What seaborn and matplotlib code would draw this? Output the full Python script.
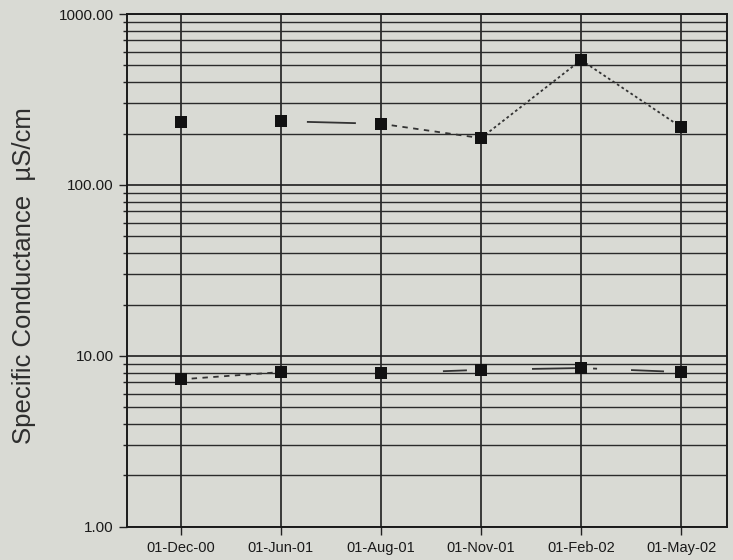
import seaborn as sns
import matplotlib.pyplot as plt
import matplotlib.ticker as mticker
import pandas as pd

# ---------------------------
# Data
# ---------------------------
dates = ["01-Dec-00", "01-Jun-01", "01-Aug-01", "01-Nov-01", "01-Feb-02", "01-May-02"]
upper_values = [233, 236, 228, 188, 538, 218]
lower_values = [7.3, 8.05, 7.9, 8.3, 8.5, 8.05]

# connector between consecutive samples, as (gap, dash, gap, dash...) fractions of the segment
# None = no line drawn, "dashed"/"dotted" = regular pattern
upper_links = [None, [0.26, 0.49], "dashed", "dotted", "dotted"]
lower_links = ["dashed", None, [0.62, 0.24], [0.51, 0.43], [0.12, 0.04, 0.34, 0.33]]

df = pd.DataFrame({
    "Date": dates * 2,
    "Conductance": upper_values + lower_values,
    "Series": ["upper"] * len(dates) + ["lower"] * len(dates),
})

# ---------------------------
# Visualization
# ---------------------------
sns.set_style("ticks")
plt.rcParams["font.family"] = ["Liberation Sans", "DejaVu Sans"]
bg = "#d9dad4"
LW = 1.3
SEG_UNITS = 72.0 / LW  # one category step is ~100 px = 72 pt


def link_style(spec):
    if spec == "dashed":
        return (0, (3, 3))
    if spec == "dotted":
        return (0, (1.5, 1.5))
    pattern = [0.01]
    for f in spec:
        pattern.append(f * SEG_UNITS)
    pattern.append(SEG_UNITS * 2)
    return (0, tuple(pattern))


fig = plt.figure(figsize=(7.33, 5.6), dpi=100, facecolor=bg)
ax = fig.add_axes([0.173, 0.059, 0.819, 0.916])
ax.set_facecolor(bg)

ax.set_yscale("log")
ax.set_ylim(1, 1000)
ax.set_xlim(-0.54, 5.46)

# connectors between points
for vals, links in [(upper_values, upper_links), (lower_values, lower_links)]:
    for i, spec in enumerate(links):
        if spec is None:
            continue
        seg = pd.DataFrame({"x": [i, i + 1], "y": vals[i:i + 2]})
        sns.lineplot(data=seg, x="x", y="y", ax=ax, color="#333333",
                     linewidth=LW, linestyle=link_style(spec), zorder=3)

df["x"] = df["Date"].map({d: i for i, d in enumerate(dates)})
sns.scatterplot(data=df, x="x", y="Conductance", ax=ax, marker="s", s=80,
                color="#111111", edgecolor="#111111", linewidth=0, zorder=4,
                legend=False)

# grid
ax.set_xticks(range(len(dates)))
ax.set_xticklabels(dates, fontsize=10.5)
ax.yaxis.set_major_locator(mticker.LogLocator(base=10, numticks=10))
ax.yaxis.set_minor_locator(mticker.LogLocator(base=10, subs=range(2, 10), numticks=10))
ax.yaxis.set_major_formatter(mticker.FormatStrFormatter("%.2f"))
ax.yaxis.set_minor_formatter(mticker.NullFormatter())
ax.grid(True, which="major", axis="both", color="#1e1e1e", linewidth=1.2)
ax.grid(True, which="minor", axis="y", color="#2a2a2a", linewidth=1.0)
ax.tick_params(axis="y", which="major", labelsize=11, length=6, width=1,
               color="#222222", labelcolor="#1a1a1a")
ax.tick_params(axis="y", which="minor", length=3, width=1, color="#222222")
ax.tick_params(axis="x", length=6, width=1, color="#222222", pad=4,
               labelcolor="#1a1a1a")
for spine in ax.spines.values():
    spine.set_color("#1a1a1a")
    spine.set_linewidth(1.4)

ax.set_xlabel("")
ax.set_ylabel("Specific Conductance  µS/cm", fontsize=18.5, color="#2e2e2e")
ax.yaxis.set_label_coords(-0.152, 0.49)

plt.savefig("out.png", dpi=100, facecolor=bg)
plt.close()
